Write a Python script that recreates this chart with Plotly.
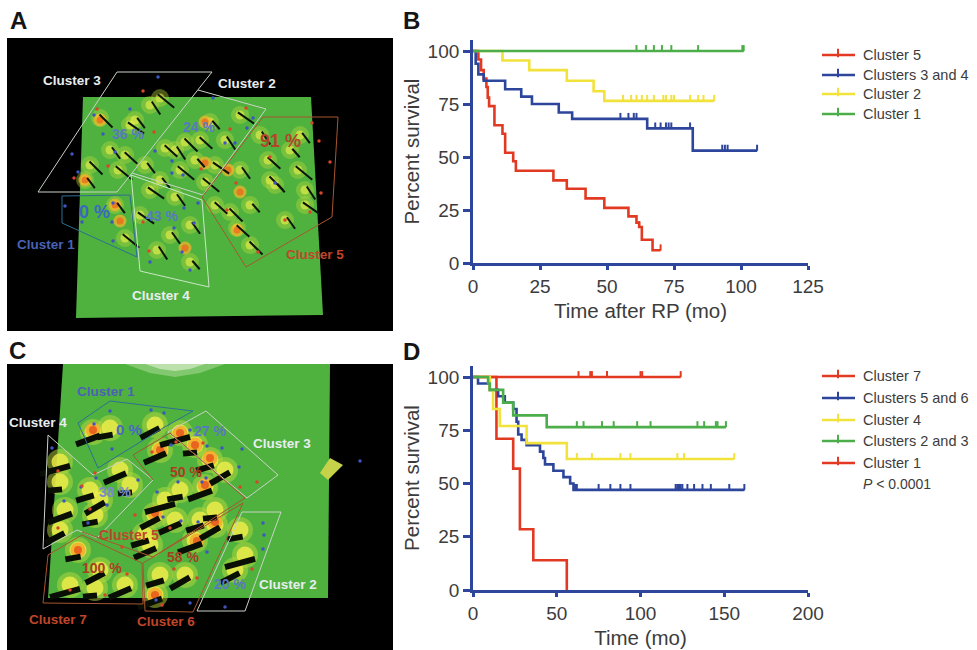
import plotly.graph_objects as go

RED, BLUE, YELLOW, GREEN = "#e23a22", "#2d469c", "#f2e23c", "#4cae4a"
TEXT = "#3c3c3c"
SANS = "Liberation Sans, Arial, sans-serif"
W, H = 977, 650

# ---- Survival data, panel B
b_names = ["Cluster 5", "Clusters 3 and 4", "Cluster 2", "Cluster 1"]
b5_x = [0, 2, 3, 4, 5, 5.5, 6, 8, 11, 12, 15, 16, 30, 35, 42, 49, 58, 61, 62, 63, 67, 70]
b5_y = [100, 96, 91, 87, 83, 78, 74, 65, 61, 52, 48, 43.5, 39, 35, 30.5, 26, 22, 19, 17, 11, 6, 6]
b5_c = [62, 70]
b34_x = [0, 1, 2, 4, 12, 18, 22, 32, 37, 65, 82, 106]
b34_y = [100, 94, 89, 86, 82, 78.5, 75, 71, 68, 63.5, 53, 53]
b34_c = [55, 58, 60, 61, 68, 70, 72, 73, 74, 81, 93, 94, 95, 106]
b2_x = [0, 11, 21, 35, 45, 49, 90]
b2_y = [100, 95.5, 91, 86, 81, 76.5, 76.5]
b2_c = [11, 56, 59, 61, 63, 65, 67.5, 71, 72, 74, 75, 81, 84, 86, 90]
b1_x = [0, 101]
b1_y = [100, 100]
b1_c = [61, 64.5, 67.5, 70.5, 74, 84, 100.5, 101]

# ---- Survival data, panel D
d_names = ["Cluster 7", "Clusters 5 and 6", "Cluster 4", "Clusters 2 and 3", "Cluster 1"]
d7_x = [0, 124]
d7_y = [100, 100]
d7_c = [63, 70, 71, 80, 100, 101, 124]
d56_x = [0, 3, 10, 15, 19, 24, 26, 27, 29, 32, 40, 42, 43, 48, 54, 58, 60, 162]
d56_y = [100, 97, 94, 91, 88, 85, 79, 73, 70.5, 68, 65, 62, 59, 56, 53, 50, 47, 47]
d56_c = [61, 62, 75, 82, 88, 94, 121, 122, 123, 124, 125, 128, 132, 137, 142, 153, 162]
d4_x = [0, 10, 12, 16, 32, 56, 156]
d4_y = [100, 94, 85, 77, 69, 61.5, 61.5]
d4_c = [62, 71, 88, 94, 122, 126, 156]
d23_x = [0, 9, 10, 18, 24, 44, 151]
d23_y = [100, 97, 94, 88, 82, 76.5, 76.5]
d23_c = [62, 66, 77, 84, 98, 106, 134, 138, 145, 146, 151]
d1_x = [0, 14, 24, 28, 36, 56, 56]
d1_y = [100, 71, 57, 28.5, 14, 0, 0]
d1_c = []

# ---- Picture panels, read in picture pixels
a_panel_x = [7, 393, 393, 7]
a_panel_y = [38, 38, 331, 331]
a_field_x = [83, 311, 323, 76]
a_field_y = [97, 97, 315, 318]
a_peaks_x = [100, 135, 160, 150, 210, 240, 110, 125, 90, 85, 118, 175, 195, 215, 240, 268, 270, 300, 298, 305, 275, 305, 285, 237, 250, 115, 125, 157, 190, 150, 175, 215, 230, 160, 180, 260, 290, 140, 170, 165, 185, 145, 205, 225, 250, 130, 190, 200]
a_peaks_y = [118, 120, 98, 105, 122, 115, 150, 155, 165, 180, 170, 150, 160, 165, 170, 160, 180, 135, 170, 190, 185, 205, 220, 228, 245, 205, 238, 250, 262, 190, 197, 205, 212, 180, 170, 135, 150, 215, 235, 148, 142, 165, 182, 140, 205, 125, 225, 140]
a_hot_x = [100, 205, 205, 228, 240, 85, 115, 120, 185, 237]
a_hot_y = [120, 122, 163, 170, 192, 180, 205, 221, 248, 230]
a_blue_x = [158, 213, 130, 94, 103, 115, 72, 78, 155, 172, 172, 183, 225, 235, 247, 253, 275, 198, 184, 174, 194, 113, 112, 82, 65, 113, 150, 182, 190]
a_blue_y = [77, 98, 109, 115, 134, 152, 154, 172, 151, 161, 173, 175, 143, 143, 128, 118, 183, 203, 208, 228, 223, 203, 222, 222, 206, 241, 262, 252, 270]
a_red_x = [143, 97, 246, 230, 154, 108, 74, 312, 319, 330, 321, 270, 236, 201, 143, 227, 285, 149, 258, 310]
a_red_y = [91, 109, 108, 129, 132, 166, 178, 123, 141, 162, 193, 157, 183, 169, 222, 210, 220, 251, 252, 212]

c_panel_x = [7, 393, 393, 7]
c_panel_y = [364, 364, 650, 650]
c_field_x = [63, 330, 328, 48]
c_field_y = [364, 364, 598, 598]
c_spike_x = [330, 343, 328, 320]
c_spike_y = [458, 465, 480, 473]
c_glow_outer_x = [125, 150, 175, 200, 225]
c_glow_outer_y = [364, 373, 377, 373, 364]
c_glow_inner_x = [145, 160, 175, 190, 205]
c_glow_inner_y = [364, 369, 371, 369, 364]
c_peaks_x = [93, 110, 155, 60, 60, 120, 90, 100, 65, 95, 60, 180, 195, 160, 210, 225, 205, 180, 155, 165, 215, 150, 200, 215, 195, 78, 100, 70, 95, 125, 160, 185, 155, 240, 235, 245, 130, 175, 145]
c_peaks_y = [432, 428, 425, 462, 482, 470, 490, 500, 510, 515, 530, 433, 445, 450, 460, 470, 487, 490, 515, 500, 510, 545, 520, 525, 540, 550, 570, 585, 588, 585, 575, 575, 595, 530, 570, 555, 485, 520, 535]
c_hot_x = [93, 180, 195, 160, 210, 205, 155, 215, 197, 78, 155]
c_hot_y = [430, 433, 445, 450, 458, 485, 513, 522, 541, 550, 595]
c_blue_x = [110, 151, 164, 94, 190, 112, 207, 171, 222, 242, 239, 96, 138, 81, 64, 107, 157, 178, 202, 206, 181, 198, 163, 88, 263, 264, 263, 207, 156, 190, 225, 52, 360]
c_blue_y = [411, 410, 413, 424, 430, 449, 446, 445, 448, 449, 467, 478, 480, 487, 501, 505, 492, 482, 482, 478, 521, 522, 517, 523, 523, 535, 549, 552, 600, 603, 607, 448, 461]
c_red_x = [58, 95, 82, 176, 152, 203, 257, 90, 135, 170, 58, 240, 122, 127, 252, 174, 197, 162, 70, 105]
c_red_y = [471, 473, 486, 442, 452, 443, 482, 509, 515, 528, 528, 487, 547, 574, 569, 569, 578, 605, 590, 595]

ridge_angles = [0, 8, -6, 12, 4, -10, 10, -3]
ridge_sizes = [13, 9, 15, 11, 8, 14, 10, 12]
shadow_angles = [25, 35, 18, 30, 40, 22, 28, 15]
shadow_sizes = [18, 11, 15, 22, 10, 17, 13, 16]

WHITE_LINE, TEAL_LINE, BROWN_LINE = "#c9d2c6", "#2f6f93", "#a8562f"
polygons = [
    ([117, 212, 117, 38, 117], [72, 72, 192, 192, 72], WHITE_LINE),
    ([198, 266, 203, 132], [90, 109, 195, 173], WHITE_LINE),
    ([131, 202, 209, 140, 131], [175, 200, 287, 271, 175], "#c9e6c4"),
    ([62, 130, 137, 62, 62], [196, 195, 257, 223, 196], TEAL_LINE),
    ([263, 338, 332, 246, 202, 263], [117, 117, 217, 267, 197, 117], BROWN_LINE),
    ([78, 110, 193, 163, 98, 78], [423, 401, 411, 428, 468, 423], TEAL_LINE),
    ([168, 206, 278, 247, 168], [432, 411, 475, 498, 432], WHITE_LINE),
    ([48, 93, 127, 153, 97, 77, 43, 48], [435, 475, 459, 480, 538, 530, 549, 435], WHITE_LINE),
    ([153, 133, 170, 245, 153, 82], [480, 455, 433, 498, 557, 532], BROWN_LINE),
    ([48, 82, 142, 143, 43, 48], [555, 535, 563, 604, 603, 555], BROWN_LINE),
    ([143, 243, 193, 145, 143], [563, 503, 612, 611, 563], BROWN_LINE),
    ([242, 281, 245, 197, 242], [512, 512, 611, 611, 512], WHITE_LINE),
]

LBL_W, LBL_B, LBL_R = "#e8edf0", "#4a62b4", "#c0452a"
picture_labels = [
    ("Cluster 3", 72, 80, LBL_W, 13.5), ("Cluster 2", 247, 83, LBL_W, 13.5),
    ("36 %", 128, 134, "#5a78c0", 14), ("24 %", 199, 127, "#5a78c0", 14),
    ("91 %", 280, 141, "#b5452a", 18), ("0 %", 94, 212, "#3a68c0", 18),
    ("43 %", 162, 216, "#5a78c0", 14), ("Cluster 1", 46, 244, LBL_B, 13.5),
    ("Cluster 4", 161, 295, LBL_W, 13.5), ("Cluster 5", 315, 254, LBL_R, 13.5),
    ("Cluster 1", 106, 391, LBL_B, 13.5), ("Cluster 4", 38, 422, LBL_W, 13.5),
    ("0 %", 129, 429, "#4a68c0", 15), ("27 %", 210, 431, "#5a78c0", 14),
    ("Cluster 3", 282, 443, LBL_W, 13.5), ("50 %", 186, 472, "#a8401f", 14),
    ("38 %", 115, 492, "#7a8cc8", 14), ("Cluster 5", 129, 535, LBL_R, 14),
    ("100 %", 102, 568, "#a8401f", 14), ("58 %", 183, 557, "#a8401f", 14),
    ("20 %", 230, 584, "#5a78c0", 14), ("Cluster 2", 288, 584, LBL_W, 13.5),
    ("Cluster 7", 58, 619, LBL_R, 13.5), ("Cluster 6", 166, 621, LBL_R, 13.5),
]
panel_letters = [("A", 18, 20), ("B", 411, 20), ("C", 17, 350), ("D", 411, 351)]

b_series = [(b5_x, b5_y, b5_c, RED), (b34_x, b34_y, b34_c, BLUE), (b2_x, b2_y, b2_c, YELLOW), (b1_x, b1_y, b1_c, GREEN)]
d_series = [(d1_x, d1_y, d1_c, RED), (d7_x, d7_y, d7_c, RED), (d56_x, d56_y, d56_c, BLUE), (d4_x, d4_y, d4_c, YELLOW), (d23_x, d23_y, d23_c, GREEN)]
b_legend = [(b_names[0], RED, 55), (b_names[1], BLUE, 75), (b_names[2], YELLOW, 94), (b_names[3], GREEN, 114)]
d_legend = [(d_names[0], RED, 376), (d_names[1], BLUE, 398), (d_names[2], YELLOW, 420), (d_names[3], GREEN, 441), (d_names[4], RED, 463)]

fig = go.Figure()
PX = dict(xaxis="x3", yaxis="y3", hoverinfo="skip", showlegend=False)


def level(xs, ys, t):
    v = ys[0]
    for x, y in zip(xs, ys):
        if x <= t:
            v = y
    return v


def km(series, xa, ya):
    for xs, ys, cs, col in series:
        fig.add_trace(go.Scatter(x=xs, y=ys, mode="lines", line=dict(color=col, width=2.6, shape="hv"),
                                 xaxis=xa, yaxis=ya, showlegend=False))
        if cs:
            fig.add_trace(go.Scatter(x=cs, y=[level(xs, ys, c) for c in cs], mode="markers",
                                     marker=dict(size=1, color=col),
                                     error_y=dict(type="data", symmetric=False, array=[2.8] * len(cs),
                                                  arrayminus=[0] * len(cs), color=col, thickness=2, width=0),
                                     xaxis=xa, yaxis=ya, showlegend=False))


km(b_series, "x", "y")
km(d_series, "x2", "y2")


def poly(xs, ys, fill):
    fig.add_trace(go.Scatter(x=xs + xs[:1], y=ys + ys[:1], mode="lines", fill="toself", fillcolor=fill,
                             line=dict(width=0, color=fill), **PX))


def dots(xs, ys, color, size, symbol="circle", opacity=1.0, dx=0, dy=0, lw=0, angle=0):
    fig.add_trace(go.Scatter(x=[v + dx for v in xs], y=[v + dy for v in ys], mode="markers",
                             marker=dict(size=size, color=color, symbol=symbol, opacity=opacity, angle=angle,
                                         line=dict(width=lw, color=color)), **PX))


def cycle(vals, n):
    return [vals[i % len(vals)] for i in range(n)]


poly(a_panel_x, a_panel_y, "#000000")
poly(a_field_x, a_field_y, "#4fb23f")
poly(c_panel_x, c_panel_y, "#000000")
poly(c_field_x, c_field_y, "#4fb23f")
poly(c_glow_outer_x, c_glow_outer_y, "rgba(225,240,200,0.35)")
poly(c_glow_inner_x, c_glow_inner_y, "rgba(245,250,235,0.5)")
poly(c_spike_x, c_spike_y, "#c6d34a")

# Panel A: ridges fall away to the lower right
na, nc = len(a_peaks_x), len(c_peaks_x)
dots(a_peaks_x, a_peaks_y, "#b8d83c", 18, opacity=0.4)
dots(a_peaks_x, a_peaks_y, "#eef04a", 9, opacity=0.6)
dots(a_hot_x, a_hot_y, "#f7b52a", 13, opacity=0.7)
dots(a_hot_x, a_hot_y, "#ee6a1e", 7, opacity=0.8)
dots(a_peaks_x, a_peaks_y, "#0a140a", cycle(ridge_sizes, na), symbol="line-nw", dx=6, dy=3, lw=2,
     angle=cycle(ridge_angles, na))
# Panel C: taller ridges throw a dark shadow to the lower left
dots(c_peaks_x, c_peaks_y, "#b8d83c", 26, opacity=0.5)
dots(c_peaks_x, c_peaks_y, "#f2ee48", 17, opacity=0.8)
dots(c_hot_x, c_hot_y, "#f7a82a", 15, opacity=0.8)
dots(c_hot_x, c_hot_y, "#e8561c", 8, opacity=0.85)
dots(c_peaks_x, c_peaks_y, "#0a0f06", cycle(shadow_sizes, nc), symbol="line-ne", dx=-5, dy=8, lw=6,
     angle=cycle(shadow_angles, nc))

for xs, ys, col in polygons:
    fig.add_trace(go.Scatter(x=xs, y=ys, mode="lines", line=dict(color=col, width=1), **PX))
for bx, by, rx, ry in [(a_blue_x, a_blue_y, a_red_x, a_red_y), (c_blue_x, c_blue_y, c_red_x, c_red_y)]:
    dots(bx, by, "#3f55c0", 3.5)
    dots(rx, ry, "#d8452a", 3.5)

# Hand-placed legends, with their tick marks
for entries in (b_legend, d_legend):
    for name, col, y in entries:
        fig.add_trace(go.Scatter(x=[822, 855], y=[y, y], mode="lines", line=dict(color=col, width=2.6), **PX))
        fig.add_trace(go.Scatter(x=[838], y=[y - 2], mode="markers",
                                 marker=dict(symbol="line-ns", size=6, line=dict(width=2, color=col)), **PX))

ann = []
for name, col, y in b_legend + d_legend:
    ann.append(dict(x=861, y=y, text=name, xanchor="left", font=dict(family=SANS, size=14.5, color=TEXT)))
ann.append(dict(x=861, y=484, text="<i>P</i> < 0.0001", xanchor="left", font=dict(family=SANS, size=14, color=TEXT)))
for t, x, y, c, s in picture_labels:
    ann.append(dict(x=x, y=y, text="<b>%s</b>" % t, font=dict(family=SANS, size=s, color=c)))
for t, x, y in panel_letters:
    ann.append(dict(x=x, y=y, text="<b>%s</b>" % t, font=dict(family=SANS, size=24, color="#151515")))
for a in ann:
    a.update(xref="x3", yref="y3", showarrow=False, yanchor="middle")
    a.setdefault("xanchor", "center")


def ax(**kw):
    base = dict(showgrid=False, zeroline=False, showline=True, linecolor=BLUE, linewidth=2.8, ticks="outside",
                ticklen=7, tickwidth=2.6, tickcolor=BLUE, tickfont=dict(family=SANS, size=19, color=TEXT),
                title_font=dict(family=SANS, size=20.5, color=TEXT), automargin=False)
    base.update(kw)
    return base


x0, x1 = 473 / W, 808 / W
fig.update_layout(
    width=W, height=H, margin=dict(l=0, r=0, t=0, b=0), paper_bgcolor="white", plot_bgcolor="rgba(0,0,0,0)",
    showlegend=False, annotations=ann,
    xaxis=ax(domain=[x0, x1], range=[0, 125], tickvals=[0, 25, 50, 75, 100, 125], anchor="y", ticklen=4,
             title=dict(text="Time after RP (mo)", standoff=8)),
    yaxis=ax(domain=[1 - 263 / H, 1 - 40 / H], range=[0, 105.2], tickvals=[0, 25, 50, 75, 100], anchor="x",
             title=dict(text="Percent survival", standoff=3)),
    xaxis2=ax(domain=[x0, x1], range=[0, 200], tickvals=[0, 50, 100, 150, 200], anchor="y2", ticklen=4,
              title=dict(text="Time (mo)", standoff=8)),
    yaxis2=ax(domain=[1 - 590 / H, 1 - 366 / H], range=[0, 105.2], tickvals=[0, 25, 50, 75, 100], anchor="x2",
              title=dict(text="Percent survival", standoff=3)),
    xaxis3=dict(domain=[0, 1], range=[0, W], visible=False, fixedrange=True, anchor="y3", automargin=False),
    yaxis3=dict(domain=[0, 1], range=[H, 0], visible=False, fixedrange=True, anchor="x3", automargin=False),
)

fig.write_html("out.html", config=dict(displayModeBar=False),
               post_script="document.body.style.margin='0';document.body.style.overflow='hidden';")
